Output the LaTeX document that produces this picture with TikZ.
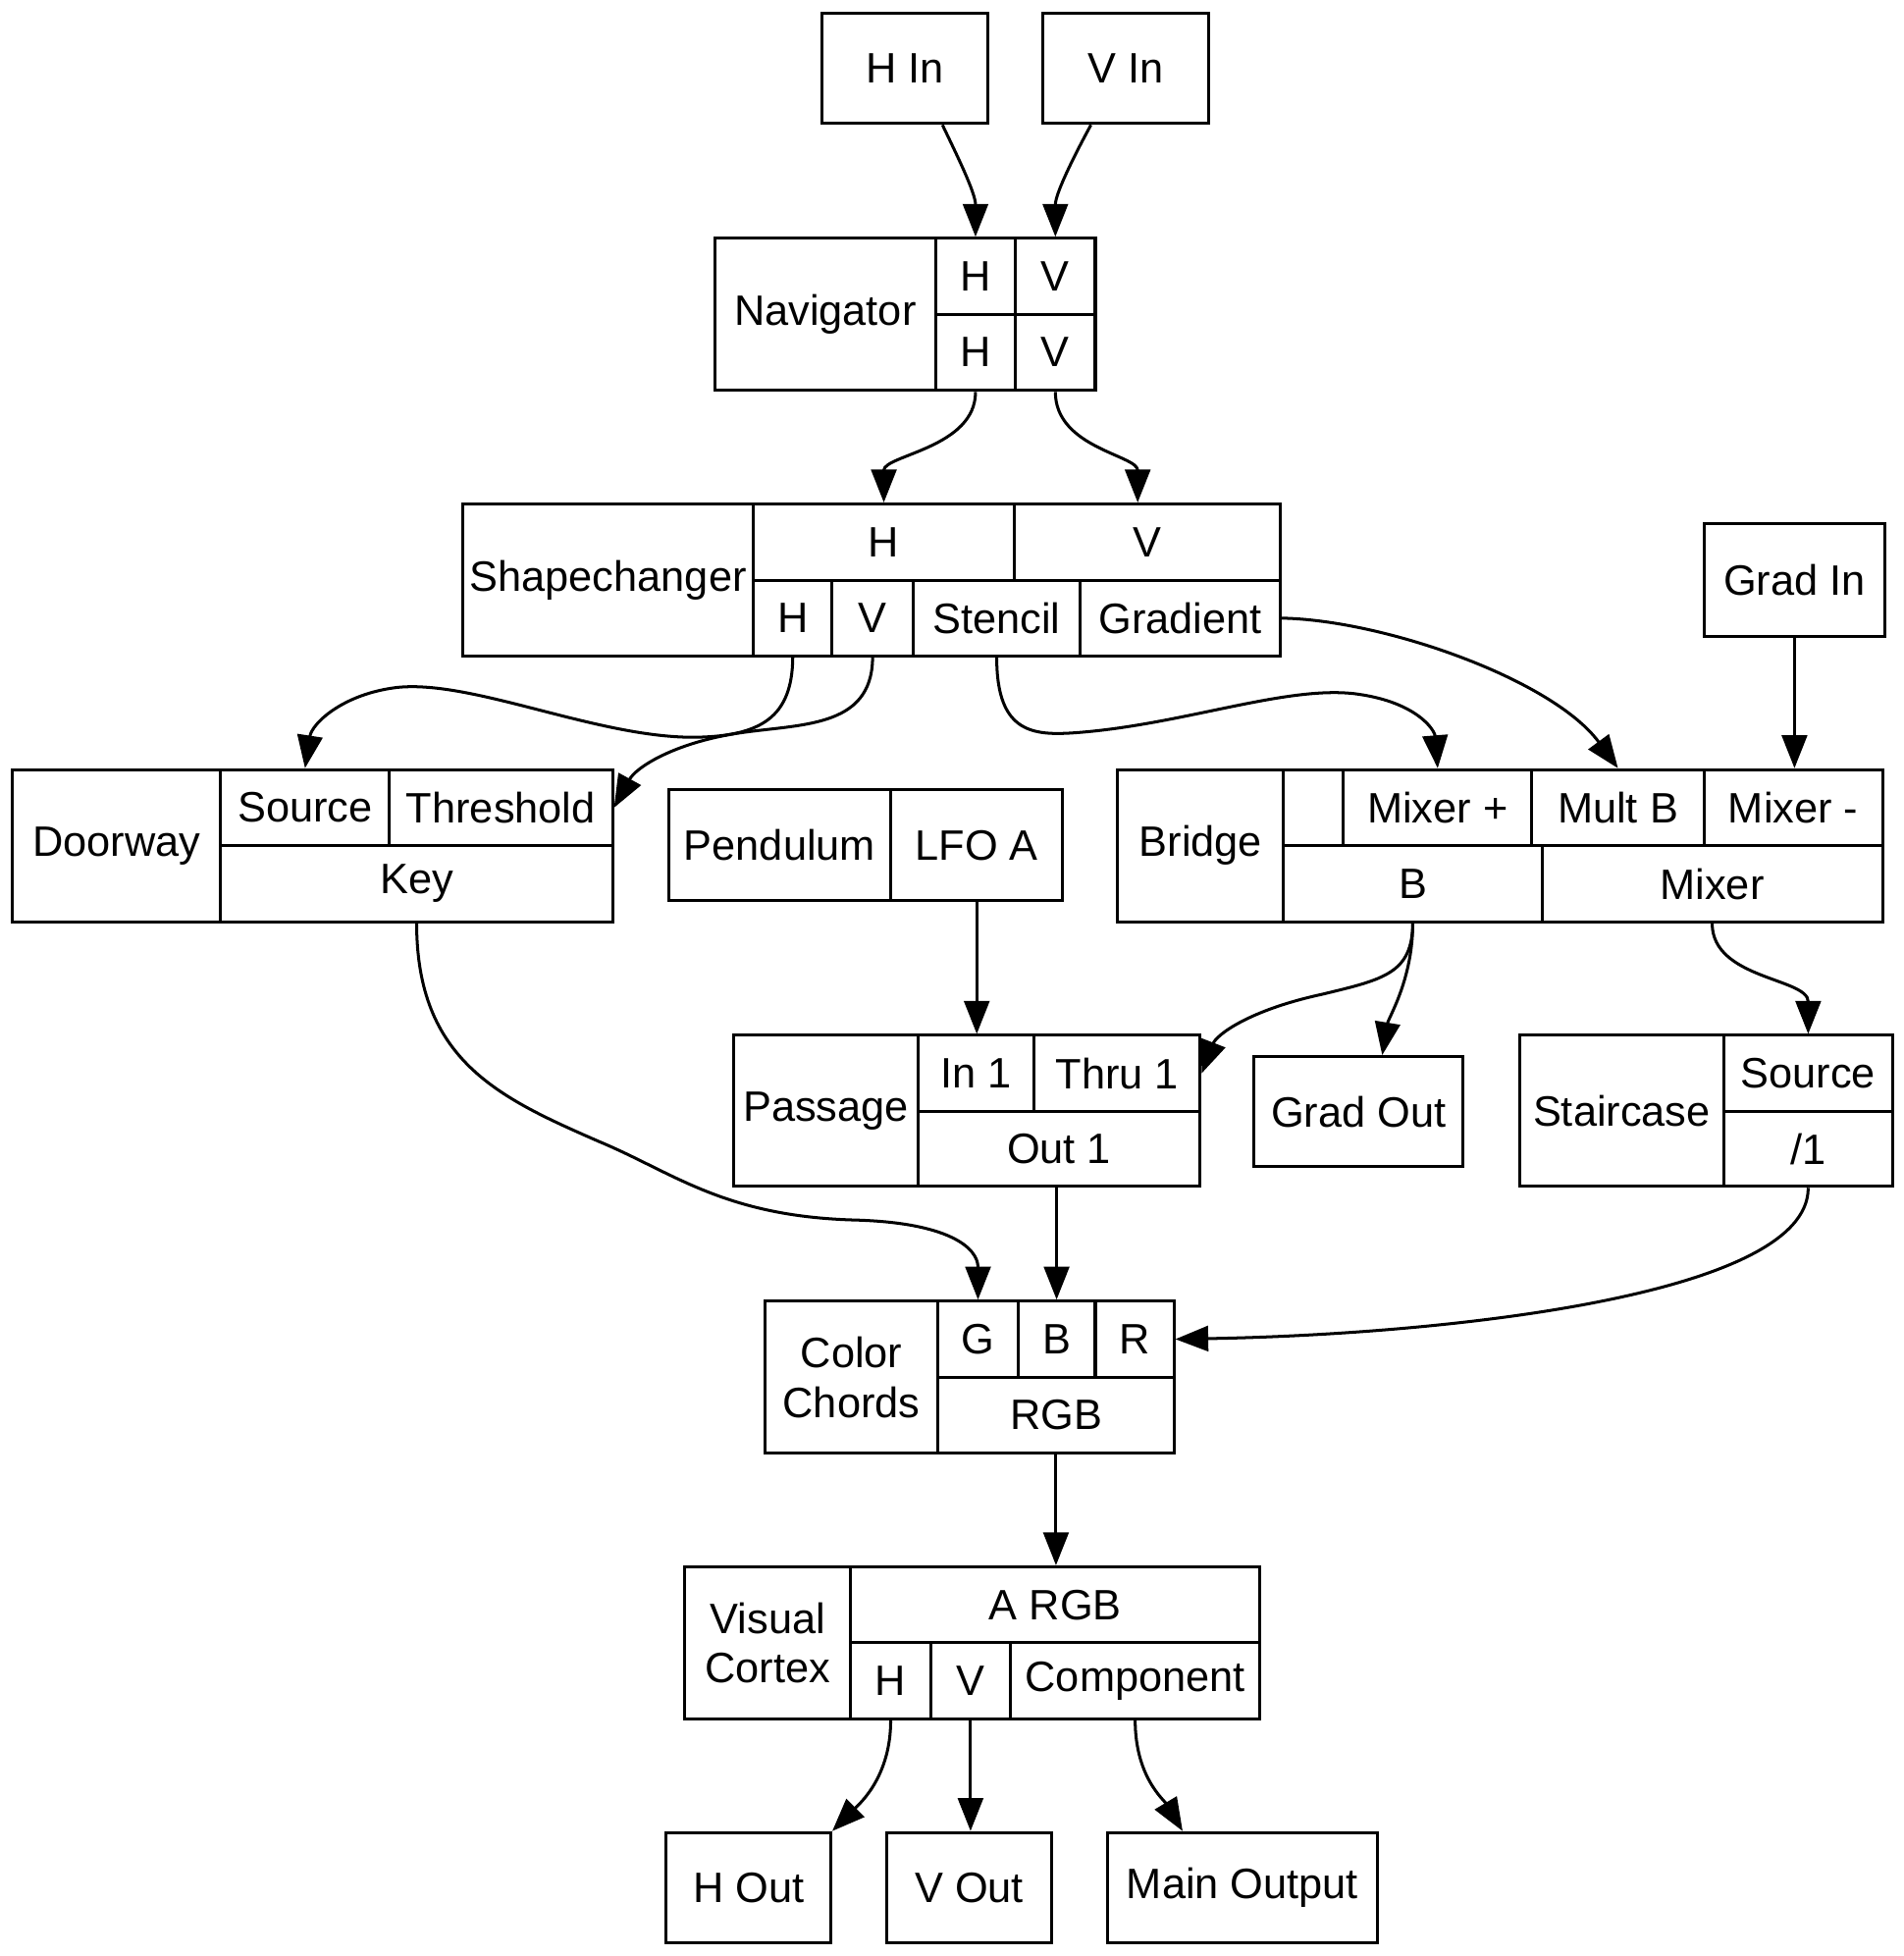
\documentclass[tikz,border=0pt]{standalone}
\usepackage{fontspec}
\setmainfont{Liberation Sans}
\usetikzlibrary{arrows.meta}

\begin{document}
\begin{tikzpicture}[x=0.2mm, y=-0.2mm, line width=1.35pt,
  every node/.style={font=\fontsize{19.4}{22.7}\selectfont},
  cell/.style 2 args={draw, inner sep=0pt, align=center, minimum width={#1*0.2mm}, minimum height={#2*0.2mm}},
  arr/.style={-{Triangle[length=15pt, width=11.5pt]}}]
  \useasboundingbox (0,0) rectangle (1526,1568);
  % inputs
  \node[cell={133}{88}] (hin) at (725.5,55) {H In};
  \node[cell={133}{88}] (vin) at (902.5,55) {V In};
  \node[cell={145}{90}] (gin) at (1438.5,465) {Grad In};
  % navigator
  \node[cell={177}{122}] (nav) at (661.5,252) {Navigator};
  \foreach \n/\x/\y/\t in {navHi/782/221.5/H, navVi/846/221.5/V, navHo/782/282.5/H, navVo/846/282.5/V}
    \node[cell={64}{61}] (\n) at (\x,\y) {\t};
  % shapechanger
  \node[cell={233}{122}] (sc) at (487.5,465) {Shapechanger};
  \node[cell={209}{61}] (scHi) at (708.5,434.5) {H};
  \node[cell={213}{61}] (scVi) at (919.5,434.5) {V};
  \node[cell={63}{61}] (scHo) at (635.5,495.5) {H};
  \node[cell={65}{61}] (scVo) at (699.5,495.5) {V};
  \node[cell={134}{61}] (scSt) at (799,495.5) {Stencil};
  \node[cell={160}{61}] (scGr) at (946,495.5) {Gradient};
  % doorway
  \node[cell={167}{122}] (dw) at (93.5,678) {Doorway};
  \node[cell={135}{61}] (dwS) at (244.5,647.5) {Source};
  \node[cell={179}{61}] (dwT) at (401.5,647.5) {Threshold};
  \node[cell={314}{61}] (dwK) at (334,708.5) {Key};
  % pendulum
  \node[cell={178}{89}] (pd) at (625,677.5) {Pendulum};
  \node[cell={138}{89}] (pdA) at (783,677.5) {LFO A};
  % bridge
  \node[cell={133}{122}] (br) at (962.5,678) {Bridge};
  \node[cell={48}{61}] (brE) at (1053,647.5) {};
  \node[cell={151}{61}] (brMp) at (1152.5,647.5) {Mixer +};
  \node[cell={138}{61}] (brMB) at (1297,647.5) {Mult B};
  \node[cell={143}{61}] (brMm) at (1437.5,647.5) {Mixer -};
  \node[cell={207}{61}] (brB) at (1132.5,708.5) {B};
  \node[cell={273}{61}] (brMx) at (1372.5,708.5) {Mixer};
  % passage, grad out, staircase
  \node[cell={148}{121}] (ps) at (662,890.5) {Passage};
  \node[cell={93}{61}] (psI) at (782.5,860.5) {In 1};
  \node[cell={133}{61}] (psT) at (895.5,860.5) {Thru 1};
  \node[cell={226}{60}] (psO) at (849,921) {Out 1};
  \node[cell={168}{88}] (gout) at (1089,891) {Grad Out};
  \node[cell={164}{121}] (st) at (1300,890.5) {Staircase};
  \node[cell={135}{61}] (stS) at (1449.5,860.5) {Source};
  \node[cell={135}{60}] (st1) at (1449.5,921) {/1};
  % color chords
  \node[cell={139}{122}] (cc) at (682.5,1104) {Color\\Chords};
  \node[cell={64}{61}] (ccG) at (784,1073.5) {G};
  \node[cell={62}{61}] (ccB) at (847,1073.5) {B};
  \node[cell={63}{61}] (ccR) at (909.5,1073.5) {R};
  \node[cell={189}{61}] (ccRGB) at (846.5,1134.5) {RGB};
  % visual cortex
  \node[cell={133}{122}] (vc) at (615.5,1317) {Visual\\Cortex};
  \node[cell={328}{61}] (vcA) at (846,1286.5) {A RGB};
  \node[cell={64}{61}] (vcH) at (714,1347.5) {H};
  \node[cell={64}{61}] (vcV) at (778,1347.5) {V};
  \node[cell={200}{61}] (vcC) at (910,1347.5) {Component};
  % outputs
  \node[cell={132}{88}] (hout) at (600,1513) {H Out};
  \node[cell={132}{88}] (vout) at (777,1513) {V Out};
  \node[cell={216}{88}] (mout) at (996,1513) {Main Output};
  % edges
  \draw[arr] ([xshift=0.6cm]hin.south) .. controls +(12,25) and +(0,-35) .. (navHi.north);
  \draw[arr] ([xshift=-0.56cm]vin.south) .. controls +(-12,22) and +(0,-35) .. (navVi.north);
  \draw[arr] (navHo.south) .. controls +(0,45) and +(0,-38) .. (scHi.north);
  \draw[arr] (navVo.south) .. controls +(0,45) and +(0,-38) .. ([xshift=-0.15cm]scVi.north);
  \draw[arr] (scHo.south) .. controls (635,575) and (610,590) .. (558,591) .. controls (480,592) and (380,545) .. (319,551) .. controls (275,556) and (250,580) .. (dwS.north);
  \draw[arr] (scVo.south) .. controls (699,585) and (640,580) .. (590,588) .. controls (540,596) and (510,615) .. (dwT.east);
  \draw[arr] (scSt.south) .. controls (799,590) and (830,590) .. (867,587) .. controls (950,580) and (1030,550) .. (1085,556) .. controls (1135,562) and (1150,585) .. (brMp.north);
  \draw[arr] (scGr.east) .. controls (1110,497) and (1245,545) .. (brMB.north);
  \draw[arr] (gin.south) -- (gin.south |- brMm.north);
  \draw[arr] (pdA.south) -- (pdA.south |- psI.north);
  \draw[arr] (brB.south) .. controls (1132,780) and (1110,785) .. (1060,797) .. controls (1000,810) and (975,830) .. (psT.east);
  \draw[arr] (brB.south) .. controls +(0,45) and +(5,-30) .. ([xshift=0.38cm]gout.north);
  \draw[arr] (brMx.south) .. controls +(0,45) and +(0,-45) .. (stS.north);
  \draw[arr] (dwK.south) .. controls (334,850) and (400,880) .. (480,915) .. controls (540,940) and (580,975) .. (685,978) .. controls (760,980) and (784,1000) .. (ccG.north);
  \draw[arr] (psO.south -| ccB.north) -- (ccB.north);
  \draw[arr] (st1.south) .. controls (1450,1040) and (1150,1070) .. (ccR.east);
  \draw[arr] (ccRGB.south) -- (ccRGB.south |- vcA.north);
  \draw[arr] (vcH.south) .. controls +(0,45) and +(22,-22) .. (hout.north east);
  \draw[arr] (vcV.south) -- (vcV.south |- vout.north);
  \draw[arr] (vcC.south) .. controls +(0,45) and +(-15,-25) .. ([xshift=-0.96cm]mout.north);
\end{tikzpicture}
\end{document}
